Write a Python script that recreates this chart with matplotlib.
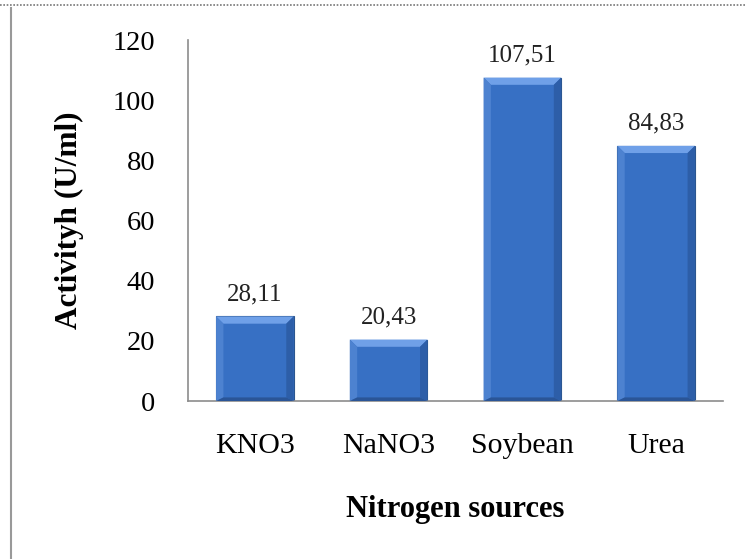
import numpy as np
import matplotlib.pyplot as plt
from matplotlib.patches import Polygon
from matplotlib.lines import Line2D

sources = ["KNO3", "NaNO3", "Soybean", "Urea"]
activity = [28.11, 20.43, 107.51, 84.83]
value_labels = ["28,11", "20,43", "107,51", "84,83"]
yticks = [0, 20, 40, 60, 80, 100, 120]

plt.rcParams['font.family'] = ['Liberation Serif', 'DejaVu Serif']

fig = plt.figure(figsize=(7.45, 5.59), dpi=100)
ax = fig.add_axes([0.2523, 0.2826, 0.7182, 0.6458])

x = np.arange(len(sources))
bars = ax.bar(x, activity, width=0.58, color='#3770C4', edgecolor='#2B568F', linewidth=0.8, zorder=2)

ax.set_xlim(-0.5, len(sources) - 0.5)
ax.set_ylim(0, 120)

# bevel on each bar: light top, shaded sides and bottom
bx, by = 0.055, 2.4
for b in bars:
    x0, w, h = b.get_x(), b.get_width(), b.get_height()
    x1 = x0 + w
    top = Polygon([(x0, h), (x1, h), (x1 - bx, h - by), (x0 + bx, h - by)],
                  closed=True, fc='#6FA0E8', ec='none', zorder=3)
    left = Polygon([(x0, 0), (x0, h), (x0 + bx, h - by), (x0 + bx, by * 0.5)],
                   closed=True, fc='#4D82D0', ec='none', zorder=3)
    right = Polygon([(x1, 0), (x1, h), (x1 - bx, h - by), (x1 - bx, by * 0.5)],
                    closed=True, fc='#2D5EA8', ec='none', zorder=3)
    bottom = Polygon([(x0, 0), (x1, 0), (x1 - bx, by * 0.5), (x0 + bx, by * 0.5)],
                     closed=True, fc='#2A5597', ec='none', zorder=3)
    for p in (top, left, right, bottom):
        ax.add_patch(p)

for xi, v, lab in zip(x, activity, value_labels):
    ax.annotate(lab, (xi, v), xytext=(0, 8), textcoords='offset points',
                ha='center', va='bottom', fontsize=18, color='#222222')

ax.set_xticks(x)
ax.set_xticklabels(sources, fontsize=21.5)
ax.set_yticks(yticks)
ax.set_yticklabels([str(t) for t in yticks], fontsize=20.5)
ax.tick_params(axis='x', length=0, pad=23)
ax.tick_params(axis='y', length=0, pad=23.5)

for s in ('top', 'right'):
    ax.spines[s].set_visible(False)
for s in ('left', 'bottom'):
    ax.spines[s].set_color('#8C8C8C')
    ax.spines[s].set_linewidth(1.2)

ax.set_ylabel("Activityh (U/ml)", fontsize=22.5, fontweight='bold', labelpad=21)
ax.set_xlabel("Nitrogen sources", fontsize=22, fontweight='bold', labelpad=26)

# frame lines around the chart area
fig.add_artist(Line2D([0, 1], [0.991, 0.991], transform=fig.transFigure,
                      color='#777777', linestyle=(0, (1, 1)), linewidth=1.2))
fig.add_artist(Line2D([0.0148, 0.0148], [0, 0.985], transform=fig.transFigure,
                      color='#999999', linewidth=1.5))

fig.savefig("out.png", dpi=100)
